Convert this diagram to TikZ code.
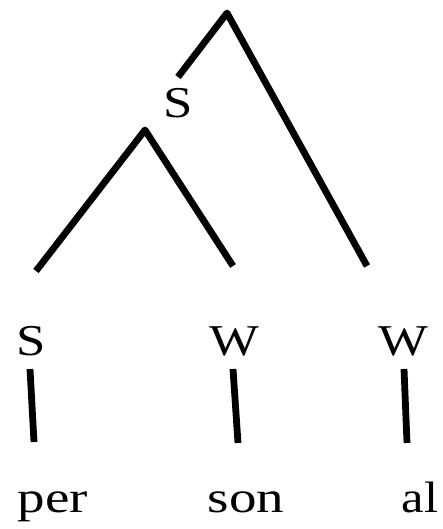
\documentclass[tikz,border=0pt]{standalone}
\usepackage{fontspec}
\setmainfont{Liberation Serif}
\begin{document}
\begin{tikzpicture}[x=1pt,y=-1pt,
  branch/.style={line width=6.8pt,line cap=butt,line join=round},
  lab/.style={anchor=base,inner sep=0pt,font=\fontsize{44}{48}\selectfont}]
\useasboundingbox (0,0) rectangle (443,529);
% tree points
\coordinate (top) at (227,13);
\coordinate (topl) at (178,77);
\coordinate (topr) at (367,266);
\coordinate (mid) at (145,130);
\coordinate (midl) at (36,271);
\coordinate (midr) at (233,266);
% labels
\node[lab] (s0) at (178,118) {\scalebox{1.2}[1]{S}};
\node[lab] (s1) at (31,355) {\scalebox{1.2}[1]{S}};
\node[lab] (w1) at (234,355) {\scalebox{1.2}[1]{W}};
\node[lab] (w2) at (403,355) {\scalebox{1.2}[1]{W}};
\node[lab] (per) at (53,512) {\scalebox{1.25}[1]{per}};
\node[lab] (son) at (246,512) {\scalebox{1.25}[1]{son}};
\node[lab] (al) at (420,512) {\scalebox{1.15}[1]{al}};
% vertical links
\coordinate (v1a) at (30,369); \coordinate (v1b) at (34,442);
\coordinate (v2a) at (233,369); \coordinate (v2b) at (238,443);
\coordinate (v3a) at (404,369); \coordinate (v3b) at (407,443);
% branches
\draw[branch] (topl) -- (top) -- (topr);
\draw[branch] (midl) -- (mid) -- (midr);
\draw[branch] (v1a) -- (v1b);
\draw[branch] (v2a) -- (v2b);
\draw[branch] (v3a) -- (v3b);
\end{tikzpicture}
\end{document}
